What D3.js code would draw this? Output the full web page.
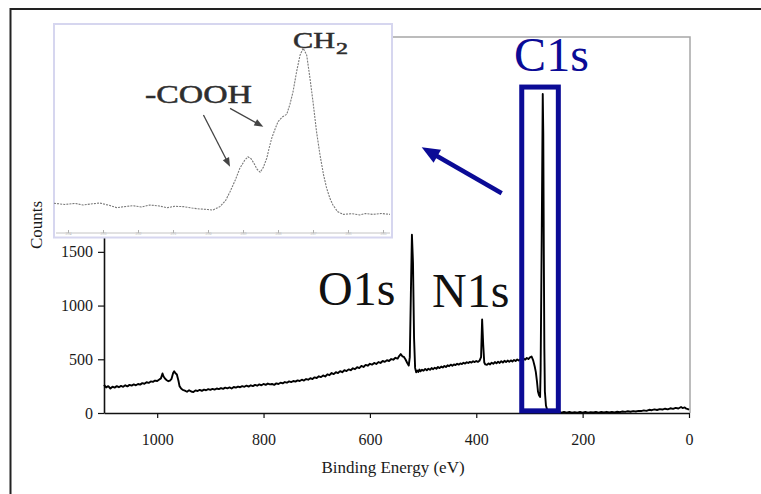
<!DOCTYPE html>
<html><head><meta charset="utf-8">
<script src="https://cdn.jsdelivr.net/npm/d3@7"></script>
<style>html,body{margin:0;padding:0;background:#fff}svg{display:block}</style>
</head><body>
<script>
// ---------- data ----------
const xTicks = [1000, 800, 600, 400, 200, 0];
const yTicks = [0, 500, 1000, 1500];
const peakLabels = ["O1s", "N1s", "C1s"];
const insetLabels = ["-COOH", "CH", "2"];
const insetTicks = [294, 293, 292, 291, 290, 289, 288, 287, 286, 285];
// survey spectrum [binding energy eV, counts]
const survey = [
[1100,262],[1096,238],[1092,250],[1088,228],[1084,245],[1080,236],[1076,250],[1072,240],[1068,252],[1064,244],
[1060,258],[1056,248],[1052,262],[1048,255],[1044,266],[1040,258],[1036,270],[1032,264],[1028,278],[1024,272],
[1020,286],[1016,280],[1012,294],[1008,290],[1004,302],[1000,298],[996,312],[993,322],[990,368],[988,340],
[985,318],[982,305],[979,296],[976,302],[973,318],[970,372],[968,388],[966,372],[963,358],[960,300],
[958,250],[955,228],[952,215],[948,208],[944,198],[940,212],[936,200],[932,195],[928,210],[924,205],
[920,215],[916,206],[912,218],[908,212],[904,222],[900,216],[896,225],[892,218],[888,228],[884,222],
[880,232],[876,225],[872,236],[868,230],[864,238],[860,228],[856,242],[852,236],[848,246],[844,240],
[840,250],[836,244],[832,255],[828,246],[824,258],[820,250],[816,262],[812,254],[808,266],[804,258],
[800,270],[796,262],[792,274],[788,266],[784,270],[780,262],[776,276],[772,270],[768,282],[764,276],
[760,288],[756,282],[752,294],[748,288],[744,298],[740,292],[736,304],[732,298],[728,310],[724,302],
[720,316],[716,310],[712,324],[708,316],[704,332],[700,326],[696,342],[692,334],[688,350],[684,340],
[680,360],[676,352],[672,372],[668,362],[664,380],[660,372],[656,390],[652,380],[648,398],[644,390],
[640,406],[636,398],[632,416],[628,408],[624,426],[620,418],[616,438],[612,428],[608,448],[604,440],
[600,458],[596,450],[592,466],[588,456],[584,474],[580,466],[576,484],[572,476],[568,492],[564,484],
[560,502],[556,496],[552,514],[548,506],[545,530],[542,548],[539,528],[536,522],[533,498],[530,468],
[527,442],[525,520],[523,1100],[521,1660],[519,1400],[517,700],[515,420],[513,378],[511,396],[509,382],
[507,404],[505,388],[502,402],[499,394],[496,410],[493,398],[490,412],[487,402],[484,418],[481,408],
[478,422],[475,412],[472,428],[469,418],[466,432],[463,424],[460,438],[457,428],[454,444],[451,436],
[448,450],[445,440],[442,452],[439,446],[436,458],[433,450],[430,462],[427,456],[424,468],[421,460],
[418,472],[415,466],[412,476],[409,470],[406,482],[403,474],[400,484],[397,476],[394,486],[391,520],
[389,870],[387,640],[385,470],[383,452],[380,448],[377,462],[374,452],[371,468],[368,458],[365,474],
[362,462],[359,478],[356,466],[353,482],[350,470],[347,486],[344,474],[341,488],[338,476],[335,490],
[332,480],[329,494],[326,484],[323,498],[320,488],[317,502],[314,492],[311,506],[308,496],[305,512],
[302,502],[299,518],[296,526],[293,490],[290,430],[288,380],[286,300],[284,200],[282,165],[280,150],
[279,400],[277,1600],[275,2970],[274,2600],[273,1500],[272,600],[271,200],[269,70],[267,35],[264,22],
[260,14],[255,10],[250,8],[245,12],[240,4],[235,10],[230,3],[225,9],[220,2],[215,8],
[210,3],[205,9],[200,4],[195,10],[190,3],[185,8],[180,5],[175,10],[170,4],[165,9],
[160,6],[155,11],[150,5],[145,10],[140,6],[135,12],[130,8],[125,14],[120,10],[115,16],
[110,12],[105,18],[100,14],[95,20],[90,18],[85,24],[80,20],[75,30],[70,26],[65,34],
[60,28],[55,36],[50,32],[45,40],[40,34],[35,44],[30,38],[25,48],[20,42],[15,56],
[12,46],[8,52],[5,40],[2,36],[0,30]
];
// high-resolution C1s inset [binding energy eV, relative intensity]
const inset = [
[294.4,12.1],[294.1,11.4],[293.8,12.0],[293.57,11.1],[293.3,11.8],[293.09,12.2],[292.8,10.8],[292.6,9.6],
[292.4,10.2],[292.14,10.7],[291.9,10.0],[291.66,11.1],[291.4,10.6],[291.17,9.6],[290.95,10.4],[290.71,10.2],
[290.45,9.4],[290.23,8.9],[290.0,8.6],[289.86,8.3],[289.66,10.2],[289.5,13.5],[289.37,18.5],[289.22,25.0],
[289.09,31.5],[288.95,36.0],[288.86,37.9],[288.77,36.8],[288.69,34.4],[288.6,31.0],[288.51,29.3],[288.42,32.0],
[288.32,37.2],[288.25,43.0],[288.18,48.2],[288.08,53.5],[288.0,57.4],[287.88,60.0],[287.75,61.5],[287.66,67.0],
[287.57,74.1],[287.47,85.0],[287.37,94.4],[287.28,98.2],[287.18,94.4],[287.09,82.0],[287.0,68.5],[286.9,52.0],
[286.8,38.9],[286.7,28.0],[286.61,20.4],[286.52,15.0],[286.43,11.1],[286.3,7.5],[286.14,5.9],[285.9,6.3],
[285.66,5.6],[285.5,6.4],[285.29,5.9],[285.05,6.4],[284.8,5.9]
];

// ---------- drawing ----------
const W = 761, H = 494;
const FONT = "'Liberation Serif','Times New Roman',serif";
const BLUE = "#0b0b96";
const svg = d3.select("body").append("svg").attr("width", W).attr("height", H)
  .style("font-family", FONT);
svg.append("rect").attr("width", W).attr("height", H).attr("fill", "#fff");

// outer page frame
svg.append("rect").attr("x", 10.5).attr("y", 9).attr("width", 800).attr("height", 600)
  .attr("fill", "none").attr("stroke", "#222").attr("stroke-width", 2);

const x = d3.scaleLinear().domain([1100, 0]).range([104, 689]);
const y = d3.scaleLinear().domain([0, 3500]).range([413, 37]);

// gray plot frame (top + right)
svg.append("path")
  .attr("d", `M${x(1100)},${y(3500)}H${x(0)+1}V${y(0)}`)
  .attr("fill", "none").attr("stroke", "#a6a6a6").attr("stroke-width", 1.5);

// axes
const gx = svg.append("g").attr("transform", `translate(0,${y(0)})`)
  .call(d3.axisBottom(x).tickValues(xTicks).tickSize(5).tickSizeOuter(0).tickPadding(15.5).tickFormat(d3.format("d")));
const gy = svg.append("g").attr("transform", `translate(${x(1100)},0)`)
  .call(d3.axisLeft(y).tickValues(yTicks).tickSize(6).tickSizeOuter(0).tickPadding(5).tickFormat(d3.format("d")));
[gx, gy].forEach(g => {
  g.select(".domain").attr("stroke", "#111").attr("stroke-width", 1.6);
  g.selectAll(".tick line").attr("stroke", "#111").attr("stroke-width", 1.2);
  g.selectAll(".tick text").attr("fill", "#1a1a1a").style("font-family", FONT).style("font-size", "16px");
});

svg.append("text").attr("transform", "translate(42,225) rotate(-90)")
  .attr("text-anchor", "middle").attr("font-size", 17).attr("fill", "#1a1a1a").text("Counts");
svg.append("text").attr("x", 393).attr("y", 473).attr("text-anchor", "middle")
  .attr("font-size", 17).attr("fill", "#1a1a1a").text("Binding Energy (eV)");

// spectrum
const line = d3.line().x(d => x(d[0])).y(d => y(d[1]));
svg.append("path").datum(survey).attr("d", line)
  .attr("fill", "none").attr("stroke", "#000").attr("stroke-width", 1.9).attr("stroke-linejoin", "round");

// peak labels
svg.append("text").attr("x", x(697.6)).attr("y", y(1005)).attr("font-size", 48).attr("fill", "#111").text(peakLabels[0]);
svg.append("text").attr("x", x(483.3)).attr("y", y(987)).attr("font-size", 48).attr("fill", "#111").text(peakLabels[1]);
svg.append("text").attr("x", x(258.6)).attr("y", y(3183)).attr("text-anchor", "middle")
  .attr("font-size", 48).attr("fill", BLUE).text(peakLabels[2]);

// C1s highlight box
svg.append("rect")
  .attr("x", x(314.5)).attr("y", y(3034))
  .attr("width", x(245.7) - x(314.5)).attr("height", y(20) - y(3034))
  .attr("fill", "none").attr("stroke", BLUE).attr("stroke-width", 5);

function arrow(g, x1, y1, x2, y2, len, wid, color, sw) {
  const dx = x2 - x1, dy = y2 - y1, L = Math.hypot(dx, dy);
  const ux = dx / L, uy = dy / L, px = -uy, py = ux;
  const bx = x2 - ux * len, by = y2 - uy * len;
  g.append("line").attr("x1", x1).attr("y1", y1).attr("x2", bx + ux * 2).attr("y2", by + uy * 2)
    .attr("stroke", color).attr("stroke-width", sw);
  g.append("path").attr("d", `M${x2},${y2}L${bx + px * wid / 2},${by + py * wid / 2}L${bx - px * wid / 2},${by - py * wid / 2}Z`)
    .attr("fill", color);
}

// ---------- inset ----------
const ix = d3.scaleLinear().domain([294, 285]).range([68, 383]);
const iy = d3.scaleLinear().domain([0, 100]).range([225, 45]);
const ig = svg.append("g");
ig.append("rect").attr("x", 54).attr("y", 24).attr("width", 338).attr("height", 213.5)
  .attr("fill", "#fff").attr("stroke", "#d6d6ef").attr("stroke-width", 2);
const iax = ig.append("g").attr("transform", "translate(0,233)")
  .call(d3.axisBottom(ix).tickValues(insetTicks).tickSize(-3).tickSizeOuter(0).tickPadding(-1));
iax.select(".domain").attr("d", "M56,0H390").attr("stroke", "#c4c4c4").attr("stroke-width", 1);
iax.selectAll(".tick line").attr("stroke", "#b0b0b0");
iax.selectAll(".tick text").attr("fill", "#b8b8b8").style("font-size", "4px").style("font-family", FONT);

ig.append("path").datum(inset)
  .attr("d", d3.line().x(d => ix(d[0])).y(d => iy(d[1])))
  .attr("fill", "none").attr("stroke", "#7a7a7a").attr("stroke-width", 1.1)
  .attr("stroke-dasharray", "2,1.1");

const inTxt = (t, xx, yy, fs, tl) => ig.append("text").attr("x", xx).attr("y", yy).attr("font-size", fs)
  .attr("textLength", tl).attr("lengthAdjust", "spacingAndGlyphs")
  .attr("fill", "#2e2e2e").attr("stroke", "#2e2e2e").attr("stroke-width", 0.5).text(t);
inTxt(insetLabels[0], ix(291.8), iy(67.8), 26, 107);
inTxt(insetLabels[1], ix(287.57), iy(98.3), 24, 42);
inTxt(insetLabels[2], ix(287.57) + 43, iy(98.3) + 6, 16, 12);

arrow(ig, ix(290.13), iy(61.1), ix(289.37), iy(32.4), 9, 7, "#444", 1.3);
arrow(ig, ix(289.37), iy(64.8), ix(288.42), iy(54.6), 9, 7, "#444", 1.3);

// main blue arrow pointing to the inset
arrow(svg, x(352.2), y(2045), x(502.6), y(2473), 18, 15, BLUE, 4.5);
</script>
</body></html>
